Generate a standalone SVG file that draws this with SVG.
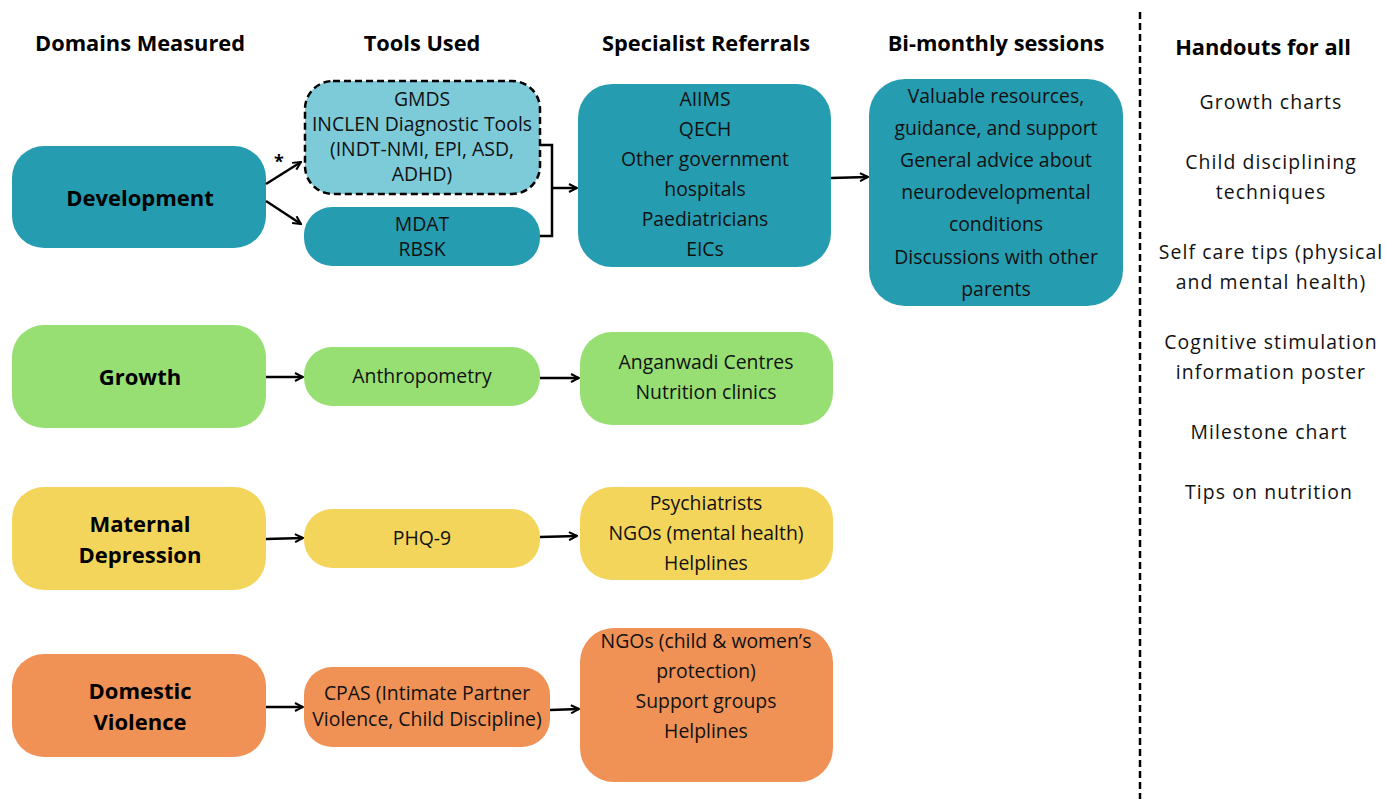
<svg xmlns="http://www.w3.org/2000/svg" width="1386" height="799" viewBox="0 0 1386 799">
<defs>
<marker id="ah" viewBox="0 0 10 10" refX="9" refY="5" markerWidth="10" markerHeight="10" markerUnits="userSpaceOnUse" orient="auto">
<path d="M1,1 L9,5 L1,9" fill="none" stroke="#000" stroke-width="2"/>
</marker>
</defs>
<style>
.hdr{font-family:"Open Sans","Liberation Sans",sans-serif;font-weight:700;font-size:21.8px;fill:#000;text-anchor:middle}
.big{font-family:"Open Sans","Liberation Sans",sans-serif;font-weight:700;font-size:22px;fill:#000;text-anchor:middle}
.t{font-family:"Open Sans","Liberation Sans",sans-serif;font-size:19.4px;fill:#111;text-anchor:middle}
.h{font-family:"Open Sans","Liberation Sans",sans-serif;font-size:19.4px;fill:#111;text-anchor:middle;letter-spacing:1.1px}
.teal{fill:#269cb0}
.lteal{fill:#7dcbd9}
.green{fill:#97df73}
.yellow{fill:#f4d55c}
.orange{fill:#f09156}
.c{fill:none;stroke:#000;stroke-width:2.5}
</style>
<rect width="1386" height="799" fill="#fff"/>
<g id="headers">
<text class="hdr" x="140" y="51">Domains Measured</text>
<text class="hdr" x="422" y="51">Tools Used</text>
<text class="hdr" x="706" y="51">Specialist Referrals</text>
<text class="hdr" x="996" y="51">Bi-monthly sessions</text>
<text class="hdr" x="1263" y="55">Handouts for all</text>
</g>
<g id="divider"><line x1="1140" y1="12" x2="1140" y2="799" stroke="#000" stroke-width="2.5" stroke-dasharray="7,4"/></g>
<g id="development"><rect class="teal" x="12" y="146" width="254" height="102" rx="32"/><text class="big" x="140" y="206">Development</text></g>
<g id="gmds"><rect class="lteal" x="305" y="81" width="235" height="113" rx="28" stroke="#000" stroke-width="2.5" stroke-dasharray="7,4"/>
<text class="t" x="422" y="106">GMDS</text><text class="t" x="422" y="131">INCLEN Diagnostic Tools</text><text class="t" x="422" y="156">(INDT-NMI, EPI, ASD,</text><text class="t" x="422" y="181">ADHD)</text></g>
<g id="mdat"><rect class="teal" x="304" y="207" width="236" height="59" rx="28"/><text class="t" x="422" y="231">MDAT</text><text class="t" x="422" y="256">RBSK</text></g>
<g id="aiims"><rect class="teal" x="578" y="84" width="253" height="183" rx="34"/>
<text class="t" x="705" y="106">AIIMS</text><text class="t" x="705" y="136">QECH</text><text class="t" x="705" y="166">Other government</text><text class="t" x="705" y="196">hospitals</text><text class="t" x="705" y="226">Paediatricians</text><text class="t" x="705" y="256">EICs</text></g>
<g id="bimonthly"><rect class="teal" x="869" y="79" width="254" height="227" rx="36"/>
<text class="t" x="996" y="103">Valuable resources,</text><text class="t" x="996" y="135">guidance, and support</text><text class="t" x="996" y="167">General advice about</text><text class="t" x="996" y="199">neurodevelopmental</text><text class="t" x="996" y="231">conditions</text><text class="t" x="996" y="264">Discussions with other</text><text class="t" x="996" y="296">parents</text></g>
<g id="growth"><rect class="green" x="12" y="325" width="254" height="103" rx="32"/><text class="big" x="140" y="385">Growth</text></g>
<g id="anthropometry"><rect class="green" x="304" y="347" width="236" height="59" rx="28"/><text class="t" x="422" y="383">Anthropometry</text></g>
<g id="anganwadi"><rect class="green" x="580" y="332" width="253" height="93" rx="32"/><text class="t" x="706" y="369">Anganwadi Centres</text><text class="t" x="706" y="399">Nutrition clinics</text></g>
<g id="maternal"><rect class="yellow" x="12" y="487" width="254" height="103" rx="32"/><text class="big" x="140" y="532">Maternal</text><text class="big" x="140" y="563">Depression</text></g>
<g id="phq9"><rect class="yellow" x="304" y="509" width="236" height="59" rx="28"/><text class="t" x="422" y="545">PHQ-9</text></g>
<g id="psychiatrists"><rect class="yellow" x="580" y="487" width="253" height="93" rx="32"/><text class="t" x="706" y="510">Psychiatrists</text><text class="t" x="706" y="540">NGOs (mental health)</text><text class="t" x="706" y="570">Helplines</text></g>
<g id="domestic"><rect class="orange" x="12" y="654" width="254" height="103" rx="32"/><text class="big" x="140" y="699">Domestic</text><text class="big" x="140" y="730">Violence</text></g>
<g id="cpas"><rect class="orange" x="304" y="667" width="246" height="80" rx="28"/><text class="t" x="427" y="700">CPAS (Intimate Partner</text><text class="t" x="427" y="726">Violence, Child Discipline)</text></g>
<g id="ngos"><rect class="orange" x="580" y="628" width="253" height="154" rx="34"/><text class="t" x="706" y="648">NGOs (child &amp; women’s</text><text class="t" x="706" y="678">protection)</text><text class="t" x="706" y="708">Support groups</text><text class="t" x="706" y="738">Helplines</text></g>
<g id="handouts">
<text class="h" x="1271" y="109">Growth charts</text>
<text class="h" x="1271" y="169">Child disciplining</text>
<text class="h" x="1271" y="199">techniques</text>
<text class="h" x="1271" y="259">Self care tips (physical</text>
<text class="h" x="1271" y="289">and mental health)</text>
<text class="h" x="1271" y="349">Cognitive stimulation</text>
<text class="h" x="1271" y="379">information poster</text>
<text class="h" x="1269" y="439">Milestone chart</text>
<text class="h" x="1269" y="499">Tips on nutrition</text>
</g>
<g id="connectors">
<line class="c" x1="266" y1="184" x2="301" y2="162" marker-end="url(#ah)"/>
<text x="279" y="168" font-family="Open Sans, Liberation Sans, sans-serif" font-weight="700" font-size="18" text-anchor="middle">*</text>
<line class="c" x1="266" y1="201" x2="301" y2="224" marker-end="url(#ah)"/>
<polyline class="c" points="540,145 552,145 552,236 540,236"/>
<line class="c" x1="552" y1="188" x2="577" y2="188" marker-end="url(#ah)"/>
<line class="c" x1="831" y1="178" x2="868" y2="177" marker-end="url(#ah)"/>
<line class="c" x1="266" y1="377" x2="303" y2="377" marker-end="url(#ah)"/>
<line class="c" x1="540" y1="378" x2="579" y2="378" marker-end="url(#ah)"/>
<line class="c" x1="266" y1="539" x2="303" y2="538" marker-end="url(#ah)"/>
<line class="c" x1="540" y1="537" x2="577" y2="536" marker-end="url(#ah)"/>
<line class="c" x1="266" y1="707" x2="303" y2="707" marker-end="url(#ah)"/>
<line class="c" x1="550" y1="710" x2="579" y2="709" marker-end="url(#ah)"/>
</g>
</svg>
